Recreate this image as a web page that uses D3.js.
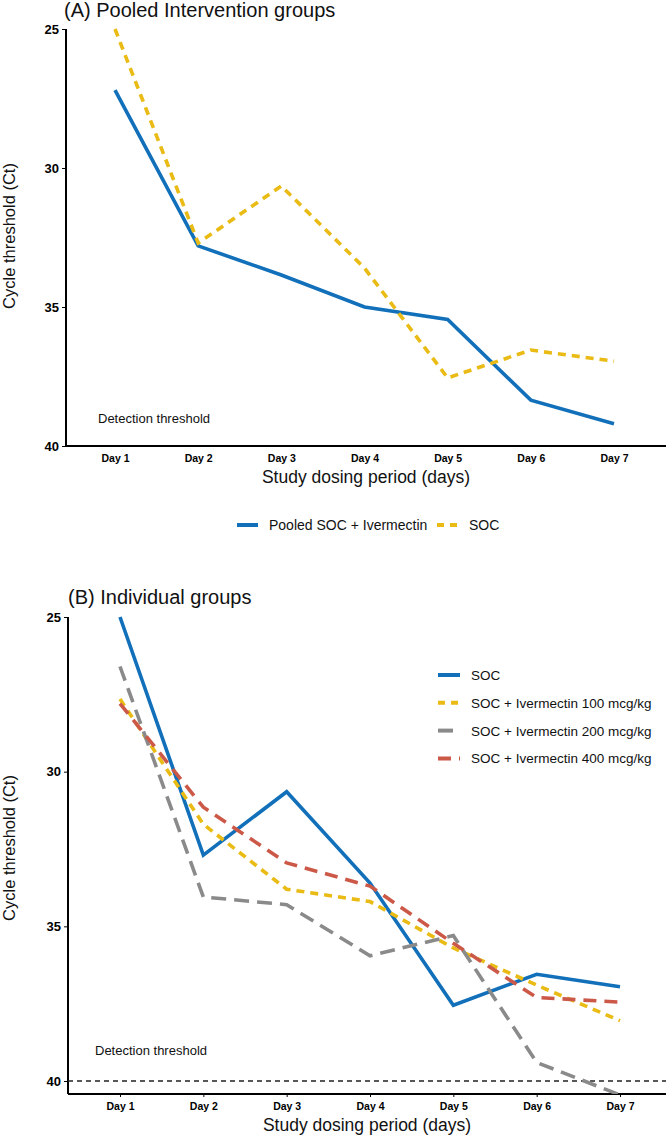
<!DOCTYPE html>
<html><head><meta charset="utf-8">
<script src="https://cdn.jsdelivr.net/npm/d3@7"></script>
<style>body{margin:0;background:#fff}svg{display:block;font-family:"Liberation Sans",Arial,sans-serif}</style>
</head><body>
<svg id="c" width="666" height="1135"></svg>
<script>
const days = ["Day 1","Day 2","Day 3","Day 4","Day 5","Day 6","Day 7"];
const yTicks = [25, 30, 35, 40];
const pooledIvm = [27.2, 32.8, 33.85, 35.0, 35.45, 38.35, 39.2];
const soc = [25.0, 32.7, 30.65, 33.6, 37.55, 36.55, 36.95];
const ivm100 = [27.65, 31.7, 33.8, 34.2, 35.7, 36.9, 38.05];
const ivm200 = [26.6, 34.05, 34.3, 35.95, 35.3, 39.4, 40.45];
const ivm400 = [27.8, 31.15, 32.95, 33.7, 35.55, 37.3, 37.45];
const detectionThreshold = 40;

const svg = d3.select("#c");

function panel(o) {
  const g = svg.append("g");
  const x = d3.scalePoint().domain(days).range([o.x0, o.x1]);
  const y = d3.scaleLinear().domain(o.dom).range([o.yTop, o.yBot]);
  const clipId = "clip" + o.id;
  svg.append("clipPath").attr("id", clipId).append("rect")
    .attr("x", o.axX).attr("y", o.yTop - 2).attr("width", 666 - o.axX).attr("height", o.yBot - o.yTop + 2);
  // title
  g.append("text").attr("x", o.titleX).attr("y", o.titleY).attr("font-size", 20).attr("fill", "#111").text(o.title);
  // y axis
  const ya = g.append("g").attr("transform", `translate(${o.axX},0)`)
    .call(d3.axisLeft(y).tickValues(yTicks).tickSize(4).tickPadding(3));
  ya.select(".domain").attr("stroke", "#000").attr("stroke-width", 2).attr("d", `M0,${y(25)}V${o.yBot}`);
  ya.selectAll(".tick line").attr("stroke", "#000").attr("stroke-width", 1);
  ya.selectAll(".tick text").attr("font-size", 13).attr("font-weight", "bold").attr("fill", "#000")
    .attr("font-family", "Liberation Sans, Arial, sans-serif");
  // x axis
  const xa = g.append("g").attr("transform", `translate(0,${o.yBot})`)
    .call(d3.axisBottom(x).tickSize(o.xTick).tickPadding(o.xTick ? 6 : 9));
  xa.select(".domain").attr("stroke", "#000").attr("stroke-width", 2).attr("d", `M${o.axX},0H666`);
  xa.selectAll(".tick line").attr("stroke", "#000").attr("stroke-width", 1);
  xa.selectAll(".tick text").attr("font-size", 10.5).attr("font-weight", "bold").attr("fill", "#000")
    .attr("font-family", "Liberation Sans, Arial, sans-serif");
  // axis titles
  g.append("text").attr("x", (o.axX + 666) / 2).attr("y", o.xTitleY).attr("text-anchor", "middle")
    .attr("font-size", 17.5).attr("fill", "#111").text("Study dosing period (days)");
  g.append("text").attr("transform", `translate(15,${o.yTitleC}) rotate(-90)`).attr("text-anchor", "middle")
    .attr("font-size", 16.5).attr("fill", "#111").text("Cycle threshold (Ct)");
  // detection threshold label
  g.append("text").attr("x", o.detX).attr("y", o.detY).attr("font-size", 13).attr("fill", "#111").text("Detection threshold");
  if (o.detLine) {
    g.append("line").attr("x1", o.axX).attr("x2", 666).attr("y1", y(detectionThreshold)).attr("y2", y(detectionThreshold))
      .attr("stroke", "#222").attr("stroke-width", 1.3).attr("stroke-dasharray", "5,4");
  }
  const line = d3.line().x((d, i) => x(days[i])).y(d => y(d));
  const lg = g.append("g").attr("clip-path", `url(#${clipId})`);
  o.series.forEach(s => {
    lg.append("path").datum(s.values).attr("d", line).attr("fill", "none")
      .attr("stroke", s.color).attr("stroke-width", 3.6).attr("stroke-dasharray", s.dash || null);
  });
  return g;
}

const BLUE = "#1170b9", YEL = "#e9bb14", GRAY = "#8a8a8a", RED = "#cc5848";

panel({id: "A", title: "(A) Pooled Intervention groups", titleX: 64, titleY: 17,
  x0: 115, x1: 614, axX: 66, yTop: 29, yBot: 446, dom: [25, 40], xTick: 0,
  xTitleY: 483, yTitleC: 236,
  detX: 98, detY: 423, detLine: false,
  series: [
    {values: pooledIvm, color: BLUE},
    {values: soc, color: YEL, dash: "8,6"}
  ]});

panel({id: "B", title: "(B) Individual groups", titleX: 68, titleY: 604,
  x0: 120, x1: 620, axX: 68, yTop: 617, yBot: 1094, dom: [25, 40.42], xTick: 3,
  xTitleY: 1131, yTitleC: 848,
  detX: 95, detY: 1055, detLine: true,
  series: [
    {values: soc, color: BLUE},
    {values: ivm100, color: YEL, dash: "8,6"},
    {values: ivm200, color: GRAY, dash: "15,8"},
    {values: ivm400, color: RED, dash: "13,8"}
  ]});

// Legend A (horizontal, bottom)
const legA = svg.append("g");
const legAItems = [
  {label: "Pooled SOC + Ivermectin", color: BLUE, dash: null, x: 237},
  {label: "SOC", color: YEL, dash: "7,6", x: 437}
];
legAItems.forEach(d => {
  legA.append("line").attr("x1", d.x).attr("x2", d.x + 21).attr("y1", 525).attr("y2", 525)
    .attr("stroke", d.color).attr("stroke-width", 4).attr("stroke-dasharray", d.dash);
  legA.append("text").attr("x", d.x + 32).attr("y", 530).attr("font-size", 14).attr("fill", "#111").text(d.label);
});

// Legend B (vertical, top right)
const legB = svg.append("g");
const legBItems = [
  {label: "SOC", color: BLUE, dash: null},
  {label: "SOC + Ivermectin 100 mcg/kg", color: YEL, dash: "7,6"},
  {label: "SOC + Ivermectin 200 mcg/kg", color: GRAY, dash: "15,8"},
  {label: "SOC + Ivermectin 400 mcg/kg", color: RED, dash: "13,8"}
];
legBItems.forEach((d, i) => {
  const yy = 675 + i * 27.8;
  legB.append("line").attr("x1", 438).attr("x2", 460).attr("y1", yy).attr("y2", yy)
    .attr("stroke", d.color).attr("stroke-width", 4).attr("stroke-dasharray", d.dash);
  legB.append("text").attr("x", 471).attr("y", yy + 5).attr("font-size", 13.5).attr("fill", "#111").text(d.label);
});
</script>
</body></html>
